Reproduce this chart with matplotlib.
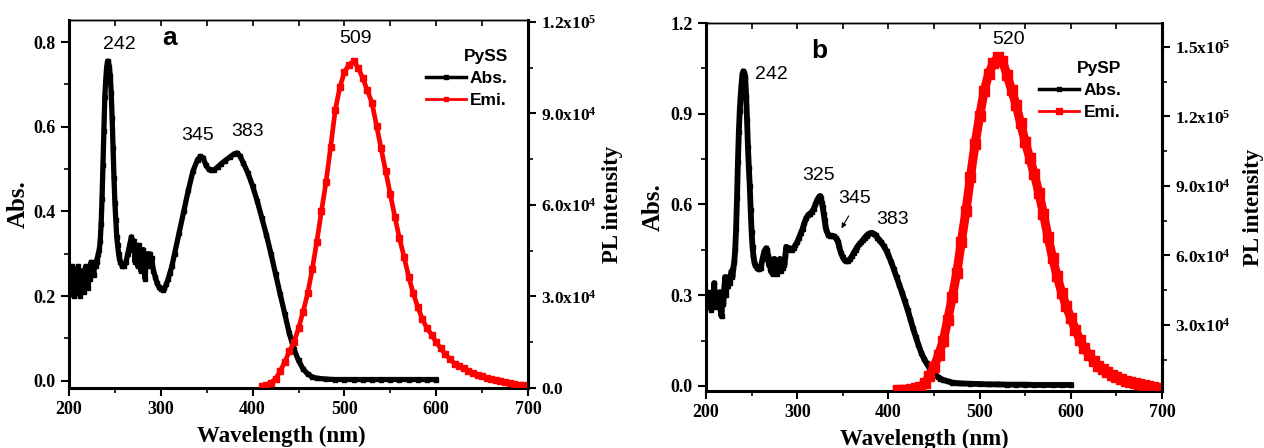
import matplotlib
matplotlib.use('Agg')
import matplotlib.pyplot as plt
from matplotlib.ticker import MultipleLocator, FixedLocator
from matplotlib.lines import Line2D

plt.rcParams['mathtext.fontset'] = 'custom'
plt.rcParams['mathtext.rm'] = 'Liberation Serif:bold'
plt.rcParams['mathtext.it'] = 'Liberation Serif:bold'
plt.rcParams['mathtext.bf'] = 'Liberation Serif:bold'
plt.rcParams['mathtext.default'] = 'rm'

# ---------------- data: panel a (PySS) ----------------
abs_a_wl = [200, 201, 202, 203, 204, 205, 206, 207, 208, 209, 210, 211, 212, 213, 214, 215, 216, 217, 218, 219,
            220, 221, 222, 223, 224, 225, 226, 227, 228, 229, 230, 231, 232, 233, 234, 235, 236, 237, 238, 239,
            240, 241, 242, 243, 244, 245, 246, 247, 248, 249, 250, 251, 252, 253, 254, 255, 256, 258, 260, 262,
            264, 266, 268, 269, 270, 271, 272, 273, 274, 275, 276, 277, 278, 279, 280, 281, 282, 283, 284, 285,
            286, 287, 288, 289, 290, 292, 294, 296, 298, 300, 302, 304, 306, 308, 310, 312, 315, 320, 325, 330,
            335, 340, 343, 346, 349, 352, 355, 358, 362, 366, 370, 375, 380, 383, 386, 390, 395, 400, 405, 410,
            415, 420, 425, 430, 435, 440, 445, 450, 455, 460, 465, 470, 480, 490, 500, 510, 520, 530, 540, 550,
            560, 570, 580, 590, 600]
abs_a = [0.22, 0.25, 0.21, 0.27, 0.23, 0.20, 0.26, 0.22, 0.25, 0.21, 0.27, 0.24, 0.20, 0.25, 0.22, 0.26, 0.21, 0.24, 0.27, 0.23,
         0.25, 0.22, 0.27, 0.24, 0.28, 0.26, 0.27, 0.25, 0.28, 0.27, 0.28, 0.29, 0.30, 0.31, 0.33, 0.37, 0.43, 0.51, 0.59, 0.67,
         0.71, 0.74, 0.755, 0.75, 0.74, 0.72, 0.68, 0.62, 0.55, 0.48, 0.42, 0.38, 0.34, 0.32, 0.30, 0.29, 0.28, 0.27, 0.27, 0.28,
         0.30, 0.32, 0.34, 0.33, 0.31, 0.33, 0.28, 0.31, 0.30, 0.27, 0.32, 0.29, 0.26, 0.30, 0.28, 0.31, 0.27, 0.24, 0.29, 0.30,
         0.27, 0.29, 0.30, 0.28, 0.29, 0.26, 0.245, 0.23, 0.222, 0.216, 0.215, 0.218, 0.228, 0.24, 0.255, 0.27, 0.30, 0.35, 0.40, 0.45,
         0.495, 0.522, 0.53, 0.527, 0.51, 0.50, 0.497, 0.498, 0.505, 0.513, 0.52, 0.528, 0.536, 0.538, 0.532, 0.514, 0.49, 0.46, 0.425, 0.385,
         0.345, 0.30, 0.252, 0.205, 0.158, 0.112, 0.075, 0.048, 0.028, 0.016, 0.009, 0.006, 0.004, 0.003, 0.003, 0.003, 0.003, 0.003, 0.003, 0.003,
         0.003, 0.003, 0.003, 0.003, 0.003]

emi_a_wl = [410, 415, 420, 425, 430, 435, 440, 445, 450, 455, 460, 465, 470, 475, 480, 485, 490, 495, 500, 505,
            510, 515, 520, 525, 530, 535, 540, 545, 550, 555, 560, 565, 570, 575, 580, 585, 590, 595, 600, 605,
            610, 615, 620, 625, 630, 635, 640, 645, 650, 655, 660, 665, 670, 675, 680, 685, 690, 695, 700]
emi_a = [500, 1000, 1800, 3000, 5500, 8500, 12000, 15000, 19500, 25000, 31000, 39000, 48000, 58000, 67500, 79000, 91000, 98500, 103500, 106000,
         107000, 105000, 101500, 97500, 93500, 86000, 78500, 71000, 63500, 56000, 49000, 43000, 36500, 31000, 26500, 22500, 19500, 17500, 15000, 13000,
         11000, 9500, 8000, 7200, 6400, 5600, 5000, 4300, 3800, 3300, 2900, 2500, 2200, 1900, 1600, 1300, 1100, 900, 700]

# ---------------- data: panel b (PySP) ----------------
abs_b_wl = [200, 201, 202, 203, 204, 205, 206, 207, 208, 209, 210, 211, 212, 213, 214, 215, 216, 217, 218, 219,
            220, 221, 222, 223, 224, 225, 226, 227, 228, 229, 230, 231, 232, 233, 234, 235, 236, 237, 238, 239,
            240, 241, 242, 243, 244, 245, 246, 247, 248, 249, 250, 251, 252, 253, 254, 256, 258, 260, 262, 264,
            266, 267, 268, 269, 270, 271, 272, 273, 274, 275, 276, 277, 278, 279, 280, 281, 282, 283, 284, 285,
            286, 287, 288, 289, 290, 292, 294, 296, 298, 300, 302, 304, 306, 308, 310, 312, 314, 316, 318, 320,
            322, 324, 325, 326, 327, 328, 329, 330, 331, 332, 334, 336, 338, 340, 342, 344, 345, 346, 348, 350,
            352, 354, 356, 358, 360, 362, 364, 366, 368, 370, 372, 374, 376, 378, 380, 382, 384, 386, 388, 390,
            392, 395, 398, 400, 403, 406, 409, 412, 415, 418, 421, 424, 427, 430, 433, 436, 439, 442, 445, 448,
            451, 454, 457, 460, 465, 470, 475, 480, 490, 500, 510, 520, 530, 540, 550, 560, 570, 580, 590, 600]
abs_b = [0.28, 0.31, 0.26, 0.30, 0.27, 0.29, 0.25, 0.31, 0.28, 0.34, 0.27, 0.30, 0.26, 0.29, 0.27, 0.31, 0.25, 0.23, 0.29, 0.27,
         0.32, 0.36, 0.30, 0.35, 0.33, 0.36, 0.34, 0.36, 0.38, 0.36, 0.39, 0.41, 0.45, 0.52, 0.62, 0.74, 0.84, 0.91, 0.96, 1.00,
         1.03, 1.04, 1.035, 1.02, 0.96, 0.88, 0.79, 0.72, 0.66, 0.58, 0.51, 0.46, 0.43, 0.41, 0.40, 0.39, 0.385, 0.39, 0.42, 0.445,
         0.455, 0.45, 0.43, 0.40, 0.42, 0.38, 0.41, 0.37, 0.40, 0.42, 0.38, 0.40, 0.37, 0.41, 0.39, 0.42, 0.38, 0.40, 0.39, 0.41,
         0.40, 0.43, 0.46, 0.455, 0.45, 0.455, 0.45, 0.455, 0.465, 0.475, 0.49, 0.505, 0.52, 0.54, 0.555, 0.565, 0.57, 0.575, 0.585, 0.60,
         0.615, 0.625, 0.628, 0.62, 0.605, 0.59, 0.57, 0.55, 0.53, 0.515, 0.50, 0.495, 0.497, 0.495, 0.49, 0.482, 0.475, 0.46, 0.44, 0.425,
         0.415, 0.412, 0.413, 0.42, 0.428, 0.44, 0.45, 0.46, 0.468, 0.475, 0.482, 0.49, 0.497, 0.502, 0.505, 0.506, 0.503, 0.498, 0.49, 0.483,
         0.475, 0.462, 0.446, 0.432, 0.41, 0.385, 0.36, 0.334, 0.308, 0.28, 0.252, 0.222, 0.19, 0.162, 0.135, 0.11, 0.09, 0.074, 0.06, 0.047,
         0.037, 0.03, 0.024, 0.02, 0.015, 0.011, 0.009, 0.008, 0.007, 0.006, 0.005, 0.005, 0.004, 0.004, 0.004, 0.003, 0.003, 0.003, 0.003, 0.003]

emi_b_wl = [410, 415, 420, 425, 430, 435, 440, 445, 450, 455, 460, 465, 470, 475, 480, 485, 490, 495, 500, 505,
            510, 515, 520, 525, 530, 535, 540, 545, 550, 555, 560, 565, 570, 575, 580, 585, 590, 595, 600, 605,
            610, 615, 620, 625, 630, 635, 640, 645, 650, 655, 660, 665, 670, 675, 680, 685, 690, 695, 700]
emi_b = [1800, 1900, 2000, 2200, 2600, 3300, 5000, 8000, 12000, 17000, 23000, 32000, 42000, 52500, 66000, 79000, 94000, 108000, 120000, 131000,
         138500, 143000, 145500, 144000, 138000, 131500, 125000, 117000, 109000, 102000, 95000, 87000, 78000, 68000, 59000, 51000, 44000, 38000, 33000, 28000,
         23500, 20000, 17000, 14500, 12500, 10800, 9500, 8500, 7600, 6800, 6000, 5400, 4900, 4400, 3900, 3500, 3100, 2800, 2500]

# tick labels
abs_a_ticks = [0.0, 0.2, 0.4, 0.6, 0.8]
abs_b_ticks = [0.0, 0.3, 0.6, 0.9, 1.2]
pl_a_ticks = [0, 30000, 60000, 90000, 120000]
pl_a_labels = ['0.0', r'3.0x10$^{4}$', r'6.0x10$^{4}$', r'9.0x10$^{4}$', r'1.2x10$^{5}$']
pl_b_ticks = [30000, 60000, 90000, 120000, 150000]
pl_b_labels = [r'3.0x10$^{4}$', r'6.0x10$^{4}$', r'9.0x10$^{4}$', r'1.2x10$^{5}$', r'1.5x10$^{5}$']
x_ticks = [200, 300, 400, 500, 600, 700]

SERIF = 'Liberation Serif'
SANS = 'Liberation Sans'

fig = plt.figure(figsize=(12.64, 4.48), dpi=100)
axA = fig.add_axes([69/1264, 60/448, 459/1264, 368/448])
axB = fig.add_axes([706/1264, 57/448, 456/1264, 368/448])


def style(ax, ax2, yticks, ylim, minor_y, pl_ticks, pl_labels, pl_lim, pl_minor, xlab_x, ylab_pad, pl_pad):
    ax.set_xlim(200, 700)
    ax.set_ylim(*ylim)
    ax.xaxis.set_major_locator(FixedLocator(x_ticks))
    ax.xaxis.set_minor_locator(MultipleLocator(50))
    ax.yaxis.set_major_locator(FixedLocator(yticks))
    ax.yaxis.set_minor_locator(MultipleLocator(minor_y))
    ax.set_xticklabels([str(v) for v in x_ticks])
    ax.set_yticklabels(['%.1f' % v for v in yticks])
    for s in ['left', 'bottom']:
        ax.spines[s].set_linewidth(2.2)
    ax.spines['top'].set_linewidth(1.0)
    ax.spines['right'].set_linewidth(2.2)
    ax.tick_params(axis='both', which='major', direction='out', length=6, width=1.5,
                   labelsize=13, top=False)
    ax.tick_params(axis='both', which='minor', direction='out', length=3.5, width=1.2, top=False)
    for lab in ax.get_xticklabels() + ax.get_yticklabels():
        lab.set_fontfamily(SERIF)
        lab.set_fontweight('bold')
    sec = ax.secondary_xaxis('top')
    sec.xaxis.set_major_locator(MultipleLocator(50))
    sec.tick_params(direction='in', length=4, width=1.2, labeltop=False)
    sec.spines['top'].set_linewidth(1.0)

    ax2.set_ylim(*pl_lim)
    ax2.yaxis.set_major_locator(FixedLocator(pl_ticks))
    ax2.yaxis.set_minor_locator(MultipleLocator(pl_minor))
    ax2.set_yticklabels(pl_labels)
    ax2.spines['right'].set_linewidth(2.2)
    ax2.tick_params(axis='y', which='major', direction='out', length=6, width=1.5, labelsize=12.5)
    ax2.tick_params(axis='y', which='minor', direction='out', length=3.5, width=1.2)
    for lab in ax2.get_yticklabels():
        lab.set_fontfamily(SERIF)
        lab.set_fontweight('bold')

    ax.set_xlabel('Wavelength (nm)', fontfamily=SERIF, fontweight='bold', fontsize=16.5)
    ax.xaxis.set_label_coords(xlab_x, -0.102)
    ax.set_ylabel('Abs.', fontfamily=SERIF, fontweight='bold', fontsize=18, labelpad=ylab_pad)
    ax2.set_ylabel('PL intensity', fontfamily=SERIF, fontweight='bold', fontsize=16.5, labelpad=pl_pad)


# ---------------- panel a ----------------
axA2 = axA.twinx()
axA.plot(abs_a_wl, abs_a, color='black', lw=3.8, marker='s', ms=3.0)
axA2.plot(emi_a_wl, emi_a, color='red', lw=3.4, marker='s', ms=4.2)
style(axA, axA2, abs_a_ticks, (-0.017, 0.852), 0.1, pl_a_ticks, pl_a_labels, (0, 120600), 15000,
      0.462, 3, 4)

ann_kw = dict(fontfamily=SANS, fontsize=14, ha='center', va='center')
axA.text(254.5, 0.793, '242', **ann_kw)
axA.text(340.5, 0.58, '345', **ann_kw)
axA.text(394.4, 0.588, '383', **ann_kw)
axA.text(512.6, 0.808, '509', **ann_kw)
axA.text(309.5, 0.81, 'a', fontfamily=SANS, fontsize=19, fontweight='bold', ha='center', va='center')

hA = [Line2D([], [], color='black', lw=2.5, marker='s', ms=2.5),
      Line2D([], [], color='red', lw=2.0, marker='s', ms=3.5)]
legA = axA2.legend(hA, ['Abs.', 'Emi.'], title='PySS', loc='upper right',
                   bbox_to_anchor=(0.975, 0.945), frameon=False, borderpad=0,
                   handlelength=2.3, handletextpad=0.25, labelspacing=0.4,
                   prop={'family': SANS, 'weight': 'bold', 'size': 12.5},
                   title_fontproperties={'family': SANS, 'weight': 'bold', 'size': 12.5},
                   alignment='right')

# ---------------- panel b ----------------
axB2 = axB.twinx()
axB.plot(abs_b_wl, abs_b, color='black', lw=4.2, marker='s', ms=3.2)
axB2.plot(emi_b_wl, emi_b, color='red', lw=6.5, marker='s', ms=7.0)
style(axB, axB2, abs_b_ticks, (-0.017, 1.2), 0.15, pl_b_ticks, pl_b_labels, (1500, 160300), 15000,
      0.478, 4, 9)

axB.text(253.7, 1.031, '242', fontfamily=SANS, fontsize=14, ha='left', va='center')
axB.text(323.9, 0.697, '325', **ann_kw)
axB.text(363.0, 0.618, '345', **ann_kw)
axB.text(404.7, 0.55, '383', **ann_kw)
axB.text(532.2, 1.144, '520', **ann_kw)
axB.text(324.5, 1.107, 'b', fontfamily=SANS, fontsize=19, fontweight='bold', ha='center', va='center')
axB.annotate('', xy=(347, 0.513), xytext=(358, 0.57),
             arrowprops=dict(arrowstyle='-|>', color='black', lw=0.8, mutation_scale=7))

hB = [Line2D([], [], color='black', lw=2.5, marker='s', ms=2.5),
      Line2D([], [], color='red', lw=2.0, marker='s', ms=5)]
legB = axB2.legend(hB, ['Abs.', 'Emi.'], title='PySP', loc='upper right',
                   bbox_to_anchor=(0.93, 0.92), frameon=False, borderpad=0,
                   handlelength=2.3, handletextpad=0.25, labelspacing=0.4,
                   prop={'family': SANS, 'weight': 'bold', 'size': 12.5},
                   title_fontproperties={'family': SANS, 'weight': 'bold', 'size': 12.5},
                   alignment='right')

fig.savefig('out.png', dpi=100)
